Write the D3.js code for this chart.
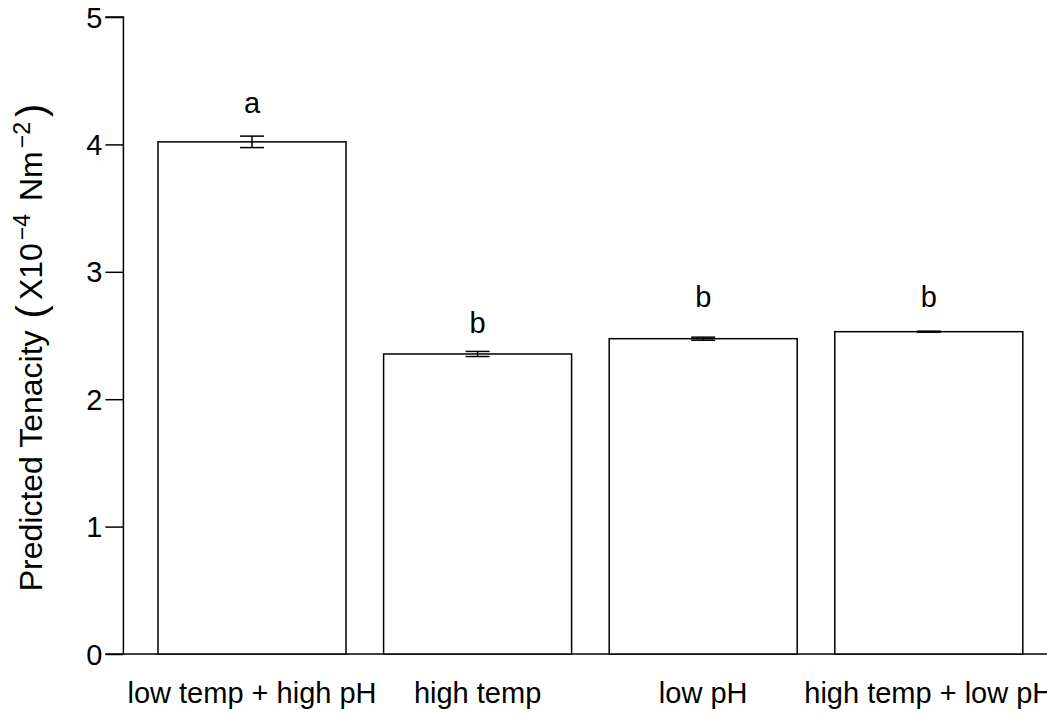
<!DOCTYPE html>
<html><head><meta charset="utf-8">
<script src="https://cdn.jsdelivr.net/npm/d3@7"></script>
<style>body{margin:0;background:#fff}svg{display:block}text{font-family:"Liberation Sans",Arial,sans-serif;fill:#000}</style>
</head><body>
<svg id="c" width="1047" height="726"></svg>
<script>
const categories = ["low temp + high pH", "high temp", "low pH", "high temp + low pH"];
const means = [4.02, 2.355, 2.475, 2.53];
const errors = [0.045, 0.02, 0.012, 0.004];
const letters = ["a", "b", "b", "b"];
const letterY = [4.245, 2.52, 2.725, 2.725];
const yTicks = [0, 1, 2, 3, 4, 5];

const svg = d3.select("#c");
const W = 1047, H = 726;
const FS = 29;
const unit = 188;
const x0 = 120.4;
const x = d3.scaleBand().domain(categories).range([x0, x0 + 5 * unit]).paddingInner(1/6).paddingOuter(1/6);
const y = d3.scaleLinear().domain([0, 5]).range([654, 17]);
const axisX = x0 + 0.016 * unit;

// baseline
svg.append("line").attr("x1", axisX).attr("x2", W).attr("y1", y(0)).attr("y2", y(0)).attr("stroke", "#000").attr("stroke-width", 1.5);

// bars
svg.selectAll("rect.bar").data(categories).join("rect").attr("class", "bar")
  .attr("x", d => x(d)).attr("width", x.bandwidth())
  .attr("y", (d, i) => y(means[i])).attr("height", (d, i) => y(0) - y(means[i]))
  .attr("fill", "#fff").attr("stroke", "#000").attr("stroke-width", 1.5);

// error bars
const cap = 12;
categories.forEach((c, i) => {
  const cx = x(c) + x.bandwidth() / 2;
  const g = svg.append("g").attr("stroke", "#000").attr("stroke-width", 1.5);
  g.append("line").attr("x1", cx).attr("x2", cx).attr("y1", y(means[i] + errors[i])).attr("y2", y(means[i] - errors[i]));
  [means[i] + errors[i], means[i] - errors[i]].forEach(v => {
    g.append("line").attr("x1", cx - cap).attr("x2", cx + cap).attr("y1", y(v)).attr("y2", y(v));
  });
  svg.append("text").attr("x", cx).attr("y", y(letterY[i])).attr("text-anchor", "middle")
    .attr("font-size", FS).text(letters[i]);
});

// y axis
const yAxis = d3.axisLeft(y).tickValues(yTicks).tickSize(18).tickPadding(3).tickFormat(d3.format("d"));
const ga = svg.append("g").attr("transform", `translate(${axisX},0)`).call(yAxis);
ga.select(".domain").attr("d", `M-18,${y(5)}H0V${y(0)}H-18`).attr("stroke-width", 1.5);
ga.selectAll(".tick line").attr("stroke-width", 1.5);
ga.selectAll(".tick text").attr("font-size", FS).attr("font-family", "Liberation Sans, Arial, sans-serif").attr("dy", "0.35em");

// x labels
svg.selectAll("text.xl").data(categories).join("text").attr("class", "xl")
  .attr("x", d => x(d) + x.bandwidth() / 2).attr("y", 703).attr("text-anchor", "middle")
  .attr("font-size", FS).text(d => d);

// y title
const TF = 32;
const t = svg.append("text").attr("transform", `translate(42,${(y(0) + y(5)) / 2 + 12}) rotate(-90)`)
  .attr("text-anchor", "middle").attr("font-size", TF);
t.append("tspan").text("Predicted Tenacity");
t.append("tspan").attr("dx", 12).attr("dy", 3).attr("font-size", 40).text("(");
t.append("tspan").attr("dx", 5).attr("dy", -3).text("X10");
t.append("tspan").attr("dx", 3).attr("dy", -12).attr("font-size", 23).text("\u22124");
t.append("tspan").attr("dx", 4).attr("dy", 12).text(" Nm");
t.append("tspan").attr("dx", 3).attr("dy", -12).attr("font-size", 23).text("\u22122");
t.append("tspan").attr("dx", 5).attr("dy", 15).attr("font-size", 40).text(")");
</script>
</body></html>
